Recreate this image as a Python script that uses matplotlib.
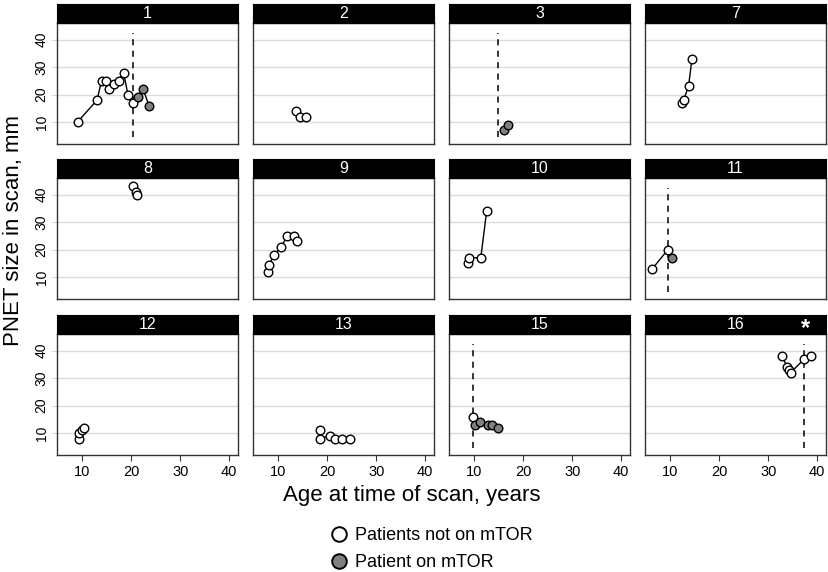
import matplotlib
matplotlib.use("Agg")
import matplotlib.pyplot as plt
from matplotlib.lines import Line2D

plt.rcParams['font.family'] = ['Liberation Sans', 'DejaVu Sans']

# panel ids in display order
patients = ["1", "2", "3", "7", "8", "9", "10", "11", "12", "13", "15", "16"]

# age at scan (years) and PNET size (mm); flag 1 = on mTOR
ages = {
    "1": [9.0, 13.0, 13.9, 14.8, 15.4, 16.4, 17.4, 18.4, 19.3, 20.3, 21.3, 22.4, 23.6],
    "2": [13.5, 14.5, 15.6],
    "3": [16.1, 16.9],
    "7": [12.3, 12.7, 13.7, 14.4],
    "8": [20.3, 21.0, 21.2],
    "9": [7.8, 8.1, 9.1, 10.6, 11.8, 13.1, 13.7],
    "10": [8.7, 8.9, 11.3, 12.5],
    "11": [6.3, 9.5, 10.3],
    "12": [9.2, 9.3, 9.9, 10.3],
    "13": [18.4, 18.4, 20.6, 21.5, 22.9, 24.6],
    "15": [9.7, 10.1, 11.2, 12.7, 13.6, 14.8],
    "16": [32.9, 33.8, 34.3, 34.6, 37.4, 38.8],
}
sizes = {
    "1": [10, 18, 25, 25, 22, 24, 25, 28, 20, 17, 19, 22, 16],
    "2": [14, 12, 12],
    "3": [7, 9],
    "7": [17, 18, 23, 33],
    "8": [43, 41, 40],
    "9": [12, 14.5, 18, 21, 25, 25, 23],
    "10": [15, 17, 17, 34],
    "11": [13, 20, 17],
    "12": [8, 10, 11, 12],
    "13": [11, 8, 9, 8, 8, 8],
    "15": [16, 13, 14, 13, 13, 12],
    "16": [38, 34, 33, 32, 37, 38],
}
on_mtor = {
    "1": [0, 0, 0, 0, 0, 0, 0, 0, 0, 0, 1, 1, 1],
    "2": [0, 0, 0],
    "3": [1, 1],
    "7": [0, 0, 0, 0],
    "8": [0, 0, 0],
    "9": [0, 0, 0, 0, 0, 0, 0],
    "10": [0, 0, 0, 0],
    "11": [0, 0, 1],
    "12": [0, 0, 0, 0],
    "13": [0, 0, 0, 0, 0, 0],
    "15": [0, 1, 1, 1, 1, 1],
    "16": [0, 0, 0, 0, 0, 0],
}
# age at mTOR start (dashed line)
mtor_start = {"1": 20.3, "3": 14.8, "11": 9.5, "15": 9.7, "16": 37.4}
starred = ["16"]

x_ticks = [10, 20, 30, 40]
y_ticks = [10, 20, 30, 40]

W, H = 829, 572
fig = plt.figure(figsize=(W / 100, H / 100), dpi=100)

col_left = [57, 253, 449, 645]
pw = 181
row_strip_top = [4, 159, 315]
strip_h = 19
plot_h = 121

for k, pid in enumerate(patients):
    r, c = divmod(k, 4)
    x0 = col_left[c]
    st = row_strip_top[r]
    pt = st + strip_h
    ax = fig.add_axes([x0 / W, 1 - (pt + plot_h) / H, pw / W, plot_h / H])
    sax = fig.add_axes([x0 / W, 1 - pt / H, pw / W, strip_h / H])
    sax.set_facecolor("black")
    sax.set_xticks([])
    sax.set_yticks([])
    for s in sax.spines.values():
        s.set_color("black")
    sax.text(0.5, 0.5, pid, color="white", ha="center", va="center",
             fontsize=11.5, transform=sax.transAxes)
    if pid in starred:
        sax.text(0.885, 0.3, "*", color="white", ha="center", va="center",
                 fontsize=17, fontweight="bold", transform=sax.transAxes)

    ax.set_xlim(4.8, 41.8)
    ax.set_ylim(2, 46)
    ax.set_yticks(y_ticks)
    ax.set_xticks(x_ticks)
    ax.grid(axis="y", color="#dcdcdc", lw=1)
    ax.set_axisbelow(True)
    for s in ax.spines.values():
        s.set_color("#333333")
        s.set_linewidth(1)
    ax.tick_params(axis="y", length=4, color="#dcdcdc", labelsize=10,
                   labelrotation=90, pad=2)
    ax.tick_params(axis="x", length=4, color="#333333", labelsize=10.5, pad=3)
    for lab in ax.get_yticklabels():
        lab.set_va("center")
    if c != 0:
        ax.tick_params(axis="y", labelleft=False, length=0)
    if r != 2:
        ax.tick_params(axis="x", labelbottom=False, length=0)

    xs, ys, fl = ages[pid], sizes[pid], on_mtor[pid]
    if pid in mtor_start:
        ax.plot([mtor_start[pid]] * 2, [4.5, 42.2], color="black", lw=1.1,
                ls=(0, (4, 3.5)), zorder=2)
    ax.plot(xs, ys, color="black", lw=1, zorder=3)
    for xv, yv, f in zip(xs, ys, fl):
        ax.plot(xv, yv, "o", ms=6.2, mew=1, mec="black",
                mfc="#808080" if f else "white", zorder=4)

fig.text(412 / W, 1 - 495 / H, "Age at time of scan, years", ha="center",
         va="center", fontsize=16)
fig.text(14 / W, 1 - 230 / H, "PNET size in scan, mm", ha="center",
         va="center", fontsize=16, rotation=90)

handles = [
    Line2D([], [], ls="none", marker="o", ms=10.5, mew=1.4, mec="black", mfc="white"),
    Line2D([], [], ls="none", marker="o", ms=10.5, mew=1.4, mec="black", mfc="#808080"),
]
fig.legend(handles, ["Patients not on mTOR", "Patient on mTOR"],
           loc="center left", bbox_to_anchor=(319 / W, 1 - 549 / H),
           frameon=False, fontsize=13, handletextpad=0.3, labelspacing=0.55,
           handlelength=1.2, borderpad=0)

fig.savefig("out.png", dpi=100)
